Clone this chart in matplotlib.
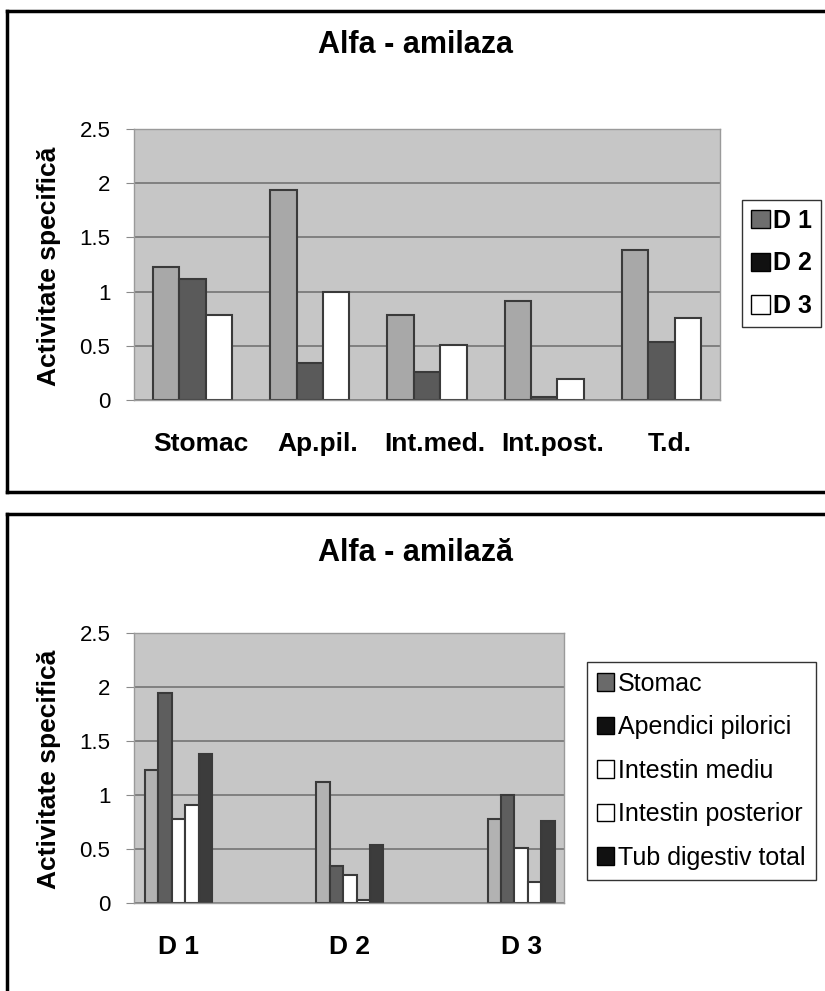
import numpy as np
import matplotlib
matplotlib.use("Agg")
import matplotlib.pyplot as plt
from matplotlib.patches import Patch
from matplotlib.lines import Line2D

plt.rcParams['font.family'] = ['Liberation Sans', 'DejaVu Sans']

# date - activitate specifica alfa-amilaza
organe = ['Stomac', 'Ap.pil.', 'Int.med.', 'Int.post.', 'T.d.']
organe_lung = ['Stomac', 'Apendici pilorici', 'Intestin mediu', 'Intestin posterior', 'Tub digestiv total']
loturi = ['D 1', 'D 2', 'D 3']
d1 = [1.23, 1.94, 0.78, 0.91, 1.38]
d2 = [1.12, 0.345, 0.255, 0.025, 0.535]
d3 = [0.78, 1.00, 0.51, 0.19, 0.755]

# culori
bg = '#c6c6c6'
grid_c = '#7a7a7a'
edge_c = '#3a3a3a'
col_d = ['#a8a8a8', '#5a5a5a', '#ffffff']
leg_d = ['#6e6e6e', '#111111', '#ffffff']
col_o = ['#b2b2b2', '#5e5e5e', '#ffffff', '#ffffff', '#3c3c3c']
leg_o = ['#6a6a6a', '#111111', '#ffffff', '#ffffff', '#111111']

fig = plt.figure(figsize=(8.25, 9.91), dpi=100)


def stil(ax):
    ax.set_facecolor(bg)
    ax.set_ylim(0, 2.5)
    ax.set_yticks([0, 0.5, 1, 1.5, 2, 2.5])
    ax.set_yticklabels(['0', '0.5', '1', '1.5', '2', '2.5'], fontsize=16)
    ax.yaxis.grid(True, color=grid_c, linewidth=1.3)
    ax.set_axisbelow(True)
    for s in ax.spines.values():
        s.set_color('#9a9a9a')
        s.set_linewidth(1)
    ax.tick_params(axis='y', length=6, color='#8a8a8a', pad=11)
    ax.tick_params(axis='x', length=0, pad=23)


# ---- graficul de sus ----
ax1 = fig.add_axes([0.1624, 0.5964, 0.7103, 0.2734])
x = np.arange(len(organe))
w = 0.225
serii = [d1, d2, d3]
for i in range(3):
    ax1.bar(x + (i - 1) * w, serii[i], w, color=col_d[i], edgecolor=edge_c, linewidth=1.5)
ax1.set_xlim(-0.5, 4.5)
ax1.set_xticks(x + 0.07)
ax1.set_xticklabels(organe, fontsize=19, fontweight='bold')
stil(ax1)

h1 = [Patch(facecolor=leg_d[i], edgecolor='black', linewidth=1) for i in range(3)]
fig.legend(h1, loturi, loc='upper left', bbox_to_anchor=(0.8994, 0.7982),
           prop={'size': 18, 'weight': 'bold'}, frameon=True, fancybox=False,
           edgecolor='black', handlelength=0.75, handleheight=0.75, handletextpad=0.15,
           labelspacing=0.75, borderpad=0.35, borderaxespad=0)

fig.text(0.504, 0.9546, 'Alfa - amilaza', ha='center', va='center', fontsize=22, fontweight='bold')
fig.text(0.0594, 0.7316, 'Activitate specifică', rotation=90, ha='center', va='center',
         fontsize=19, fontweight='bold')

# ---- graficul de jos ----
ax2 = fig.add_axes([0.1624, 0.0888, 0.5212, 0.2725])
x2 = np.arange(len(loturi))
w2 = 0.078
valori = np.array([d1, d2, d3])
for j in range(5):
    ax2.bar(x2 + (j - 2) * w2, valori[:, j], w2, color=col_o[j], edgecolor=edge_c, linewidth=1.5)
ax2.set_xlim(-0.26, 2.25)
ax2.set_xticks(x2)
ax2.set_xticklabels(loturi, fontsize=19, fontweight='bold')
stil(ax2)

h2 = [Patch(facecolor=leg_o[j], edgecolor='black', linewidth=1) for j in range(5)]
fig.legend(h2, organe_lung, loc='upper left', bbox_to_anchor=(0.7115, 0.332),
           prop={'size': 18}, frameon=True, fancybox=False,
           edgecolor='black', handlelength=0.7, handleheight=0.7, handletextpad=0.15,
           labelspacing=0.78, borderpad=0.4, borderaxespad=0)

fig.text(0.504, 0.442, 'Alfa - amilază', ha='center', va='center', fontsize=22, fontweight='bold')
fig.text(0.0594, 0.224, 'Activitate specifică', rotation=90, ha='center', va='center',
         fontsize=19, fontweight='bold')

# chenare
fig.add_artist(Line2D([0.0085, 1.0], [0.989, 0.989], color='black', linewidth=2.5))
fig.add_artist(Line2D([0.0085, 0.0085], [0.989, 0.5035], color='black', linewidth=2.5))
fig.add_artist(Line2D([0.0085, 1.0], [0.5035, 0.5035], color='black', linewidth=2.5))
fig.add_artist(Line2D([0.0085, 1.0], [0.4813, 0.4813], color='black', linewidth=2.5))
fig.add_artist(Line2D([0.0085, 0.0085], [0.4813, 0.0], color='black', linewidth=2.5))

fig.savefig('out.png', dpi=100)
